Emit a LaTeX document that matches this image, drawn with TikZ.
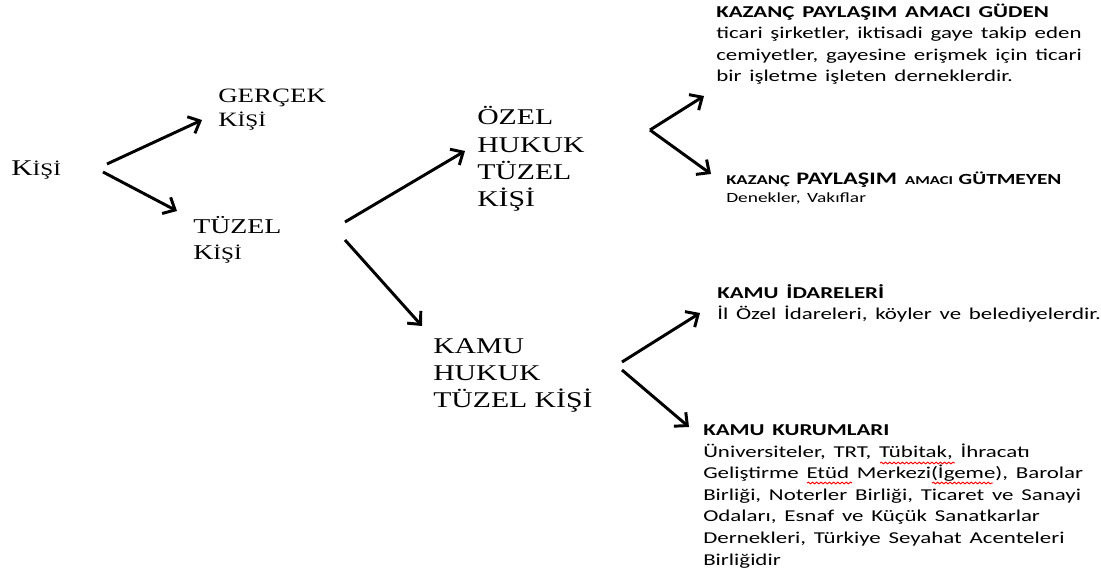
\documentclass[tikz,border=0pt]{standalone}
\usepackage{fontspec}
\setmainfont{Liberation Serif}
\newfontfamily\wideserif[FakeStretch=1.32]{Liberation Serif}
\newfontfamily\widesans[FakeStretch=1.38,WordSpace=1.5]{Carlito}
\usetikzlibrary{arrows.meta,calc,decorations.pathmorphing}

% small letters after a capital, as in the slide
\newcommand{\lowcaps}[1]{{\fontsize{12.5}{12.5}\selectfont #1}}

\tikzset{
  term/.style={font=\wideserif\fontsize{16}{19.5}\selectfont, align=left, inner sep=0pt, anchor=base west},
  note/.style={font=\widesans\fontsize{11.8}{15.3}\selectfont, align=left, inner sep=0pt, anchor=base west},
  arr/.style={-{Straight Barb[length=7pt,width=13pt]}, line width=2.1pt},
  spell/.style={red, line width=0.7pt, decorate, decoration={snake, amplitude=0.6pt, segment length=3pt}},
}

\begin{document}
\begin{tikzpicture}[x=0.025cm, y=-0.025cm]
  \useasboundingbox (0,0) rectangle (1101,577);
  % left part of the tree
  \node[term] (kisi) at (11,176) {K\lowcaps{İŞİ}};
  \node[term, font=\wideserif\fontsize{14.5}{17.5}\selectfont] (gercek) at (218,127) {GERÇEK\\K\lowcaps{İŞİ}};
  \node[term, font=\wideserif\fontsize{15}{19}\selectfont] (tuzel) at (193,260) {TÜZEL\\K\lowcaps{İŞİ}};
  \node[term] (ozel) at (477,207) {ÖZEL\\HUKUK\\TÜZEL\\KİŞİ};
  \node[term] (kamu) at (433,408) {KAMU\\HUKUK\\TÜZEL KİŞİ};
  % notes on the right
  \node[note] (guden) at (716,82) {\textbf{KAZANÇ PAYLAŞIM AMACI GÜDEN}\\ticari şirketler, iktisadi gaye takip eden\\cemiyetler, gayesine erişmek için ticari\\bir işletme işleten derneklerdir.};
  \node[note, font=\widesans\fontsize{10}{12.8}\selectfont] (gutmeyen) at (726,203) {\textbf{\fontsize{9.6}{12.8}\selectfont KAZANÇ \fontsize{12.5}{12.8}\selectfont PAYLAŞIM \fontsize{8.6}{12.8}\selectfont AMACI \fontsize{11}{12.8}\selectfont GÜTMEYEN}\\Denekler, Vakıflar};
  \node[note] (idare) at (717,320) {\textbf{KAMU İDARELERİ}\\İl Özel İdareleri, köyler ve belediyelerdir.};
  \node[note] (kurum) at (703,565) {\textbf{KAMU KURUMLARI}\\Üniversiteler, TRT, Tübitak, İhracatı\\Geliştirme Etüd Merkezi(İgeme), Barolar\\Birliği, Noterler Birliği, Ticaret ve Sanayi\\Odaları, Esnaf ve Küçük Sanatkarlar\\Dernekleri, Türkiye Seyahat Acenteleri\\Birliğidir};
  % red spelling marks
  \draw[spell] ($(kurum.base west)+(177,-102)$) -- ($(kurum.base west)+(252,-102)$);
  \draw[spell] ($(kurum.base west)+(104,-82)$) -- ($(kurum.base west)+(149,-82)$);
  \draw[spell] ($(kurum.base west)+(229,-82)$) -- ($(kurum.base west)+(290,-82)$);
  % arrows
  \coordinate (ozel-fork) at ($(ozel.base west)+(173,-77)$);
  \draw[arr] ($(kisi.base west)+(96,-12)$) -- ($(gercek.base west)+(-16,-7)$);
  \draw[arr] ($(kisi.base west)+(92,-4)$) -- ($(tuzel.base west)+(-16,-49)$);
  \draw[arr] ($(tuzel.base west)+(152,-38)$) -- ($(ozel.base west)+(-12,-56)$);
  \draw[arr] ($(tuzel.base west)+(152,-20)$) -- ($(kamu.base west)+(-11,-82)$);
  \draw[arr] (ozel-fork) -- ($(guden.base west)+(-12,14)$);
  \draw[arr] (ozel-fork) -- ($(gutmeyen.base west)+(-15,-29)$);
  \draw[arr] ($(kamu.base west)+(189,-46)$) -- ($(idare.base west)+(-17,-7)$);
  \draw[arr] ($(kamu.base west)+(189,-38)$) -- ($(kurum.base west)+(-14,-138)$);
\end{tikzpicture}
\end{document}
